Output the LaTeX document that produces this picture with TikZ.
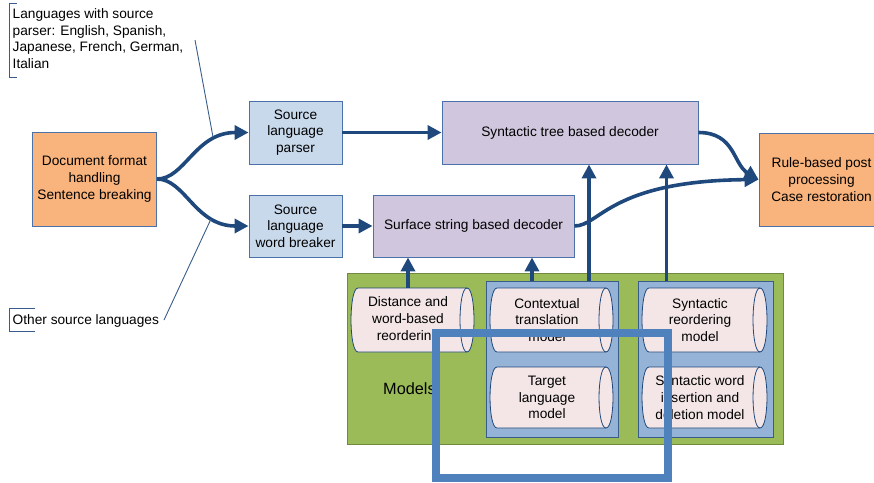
\documentclass[tikz,border=0pt]{standalone}
\usepackage{fontspec}
\setmainfont{Liberation Sans}
\usetikzlibrary{arrows.meta}
\definecolor{arrowc}{HTML}{1F497D}
\definecolor{srcfill}{HTML}{C9D9EC}
\definecolor{srcdraw}{HTML}{4A72A8}
\definecolor{purfill}{HTML}{D0C6DE}
\definecolor{orfill}{HTML}{F9B47D}
\definecolor{grfill}{HTML}{9BBB59}
\definecolor{grdraw}{HTML}{71893F}
\definecolor{blfill}{HTML}{95B3D7}
\definecolor{bldraw}{HTML}{385D8A}
\definecolor{cylfill}{HTML}{F4E6E6}
\definecolor{outl}{HTML}{4F81BD}
\newcommand\mycyl[6]{% name, cx, cy, w, h, text
  \pgfmathsetmacro\cxl{#2-#4/2+7}%
  \pgfmathsetmacro\cxr{#2+#4/2-7}%
  \pgfmathsetmacro\cyt{#3-#5/2}%
  \pgfmathsetmacro\cyb{#3+#5/2}%
  \pgfmathsetmacro\cxlc{\cxl-9.3}%
  \pgfmathsetmacro\cxrc{\cxr+9.3}%
  \pgfmathsetmacro\cxri{\cxr-9.3}%
  \path[cylshape] (\cxl,\cyt) -- (\cxr,\cyt) .. controls (\cxrc,\cyt) and (\cxrc,\cyb) .. (\cxr,\cyb)
     -- (\cxl,\cyb) .. controls (\cxlc,\cyb) and (\cxlc,\cyt) .. (\cxl,\cyt) -- cycle;
  \draw[cylline] (\cxr,\cyt) .. controls (\cxri,\cyt) and (\cxri,\cyb) .. (\cxr,\cyb);
  \node[cyltext, minimum width=#4pt-9pt, minimum height=#5pt] (#1) at (#2-4.5,#3) {#6};
}
\begin{document}
\begin{tikzpicture}[x=1pt,y=-1pt,
  every node/.style={font=\fontsize{13.7pt}{16.6pt}\selectfont, align=center, inner sep=1pt},
  box/.style={draw=srcdraw, line width=0.9pt, rectangle},
  srcbox/.style={box, fill=srcfill},
  purbox/.style={box, fill=purfill},
  orbox/.style={box, fill=orfill},
  cylshape/.style={draw=arrowc, line width=0.8pt, fill=cylfill},
  cylline/.style={draw=arrowc, line width=0.8pt},
  cyltext/.style={inner sep=0pt},
  arr/.style={draw=arrowc, line width=3.6pt, -{Triangle[length=14pt,width=14pt]}},
  lead/.style={draw=bldraw, line width=0.9pt},
  note/.style={inner sep=0pt, align=left}
]
\useasboundingbox (0,0) rectangle (874,482);
\clip (0,0) rectangle (874,482);
% models area
\node[draw=grdraw, line width=0.9pt, fill=grfill, minimum width=436pt, minimum height=171pt] (green) at (565,358.5) {};
\node[draw=bldraw, line width=0.9pt, fill=blfill, minimum width=132pt, minimum height=156pt] (blue1) at (552,359) {};
\node[draw=bldraw, line width=0.9pt, fill=blfill, minimum width=135pt, minimum height=156pt] (blue2) at (705.5,359) {};
\mycyl{c1}{412.5}{320}{123}{64}{Distance and\\word-based\\reordering}
\mycyl{c2}{551.5}{320}{123}{64}{Contextual\\translation\\model}
\mycyl{c3}{551.5}{397.5}{123}{61}{Target\\language\\model}
\mycyl{c4}{704.5}{320}{125}{64}{Syntactic\\reordering\\model}
\mycyl{c5}{704.5}{397.5}{125}{61}{Syntactic word\\insertion and\\deletion model}
\node[note, anchor=base west, font=\fontsize{16.3pt}{19pt}\selectfont] (models) at (383,394) {Models};
% main boxes
\node[orbox, minimum width=124pt, minimum height=94pt] (doc) at (94.5,179) {Document format\\handling\\Sentence breaking};
\node[srcbox, minimum width=93pt, minimum height=63pt] (parser) at (295.5,132.5) {Source\\language\\parser};
\node[srcbox, minimum width=93pt, minimum height=62pt] (wb) at (295.5,226) {Source\\language\\word breaker};
\node[purbox, minimum width=256pt, minimum height=63pt] (tree) at (570,132.5) {Syntactic tree based decoder};
\node[purbox, minimum width=201pt, minimum height=62pt] (surf) at (473.5,226) {Surface string based decoder};
\node[orbox, minimum width=125pt, minimum height=93pt] (post) at (821.5,179.5) {Rule-based post\\processing\\Case restoration};
% connectors
\draw[arr] (doc.east) .. controls (185,179) and (195,132.5) .. (parser.west);
\draw[arr] (doc.east) .. controls (185,179) and (195,226) .. (wb.west);
\draw[arr] (parser.east) -- (tree.west);
\draw[arr] (wb.east) -- (surf.west);
\draw[arr] (tree.east) .. controls (735,132.5) and (733,164) .. (post.west);
\draw[arr] (surf.east) .. controls (600,226) and (610,181) .. (post.west);
\coordinate (u1) at (408,0);
\coordinate (u2) at (532,0);
\coordinate (u3) at (589,0);
\coordinate (u4) at (666.5,0);
\draw[arr] (c1.north -| u1) -- (surf.south -| u1);
\draw[arr] (blue1.north -| u2) -- (surf.south -| u2);
\draw[arr] (blue1.north -| u3) -- (tree.south -| u3);
\draw[arr] (blue2.north -| u4) -- (tree.south -| u4);
% annotations
\node[note, anchor=north west] (n1) at (12.5,8.5) {Languages with source\\parser: English, Spanish,\\Japanese, French, German,\\Italian};
\draw[lead] (17,3) -- (9.5,3) -- (9.5,77) -- (17,77);
\coordinate (l1a) at (195,40);
\coordinate (l1b) at (213,137);
\draw[lead] (l1a) -- (l1b);
\node[note, anchor=base west] (n2) at (12.5,324) {Other source languages};
\draw[lead] (35,308) -- (9.5,308) -- (9.5,331) -- (35,331);
\coordinate (l2a) at (164,320);
\coordinate (l2b) at (211,219);
\draw[lead] (l2a) -- (l2b);
% overlaid outline
\draw[draw=outl, line width=7.5pt] (436,333) rectangle (668,478);
\end{tikzpicture}
\end{document}
